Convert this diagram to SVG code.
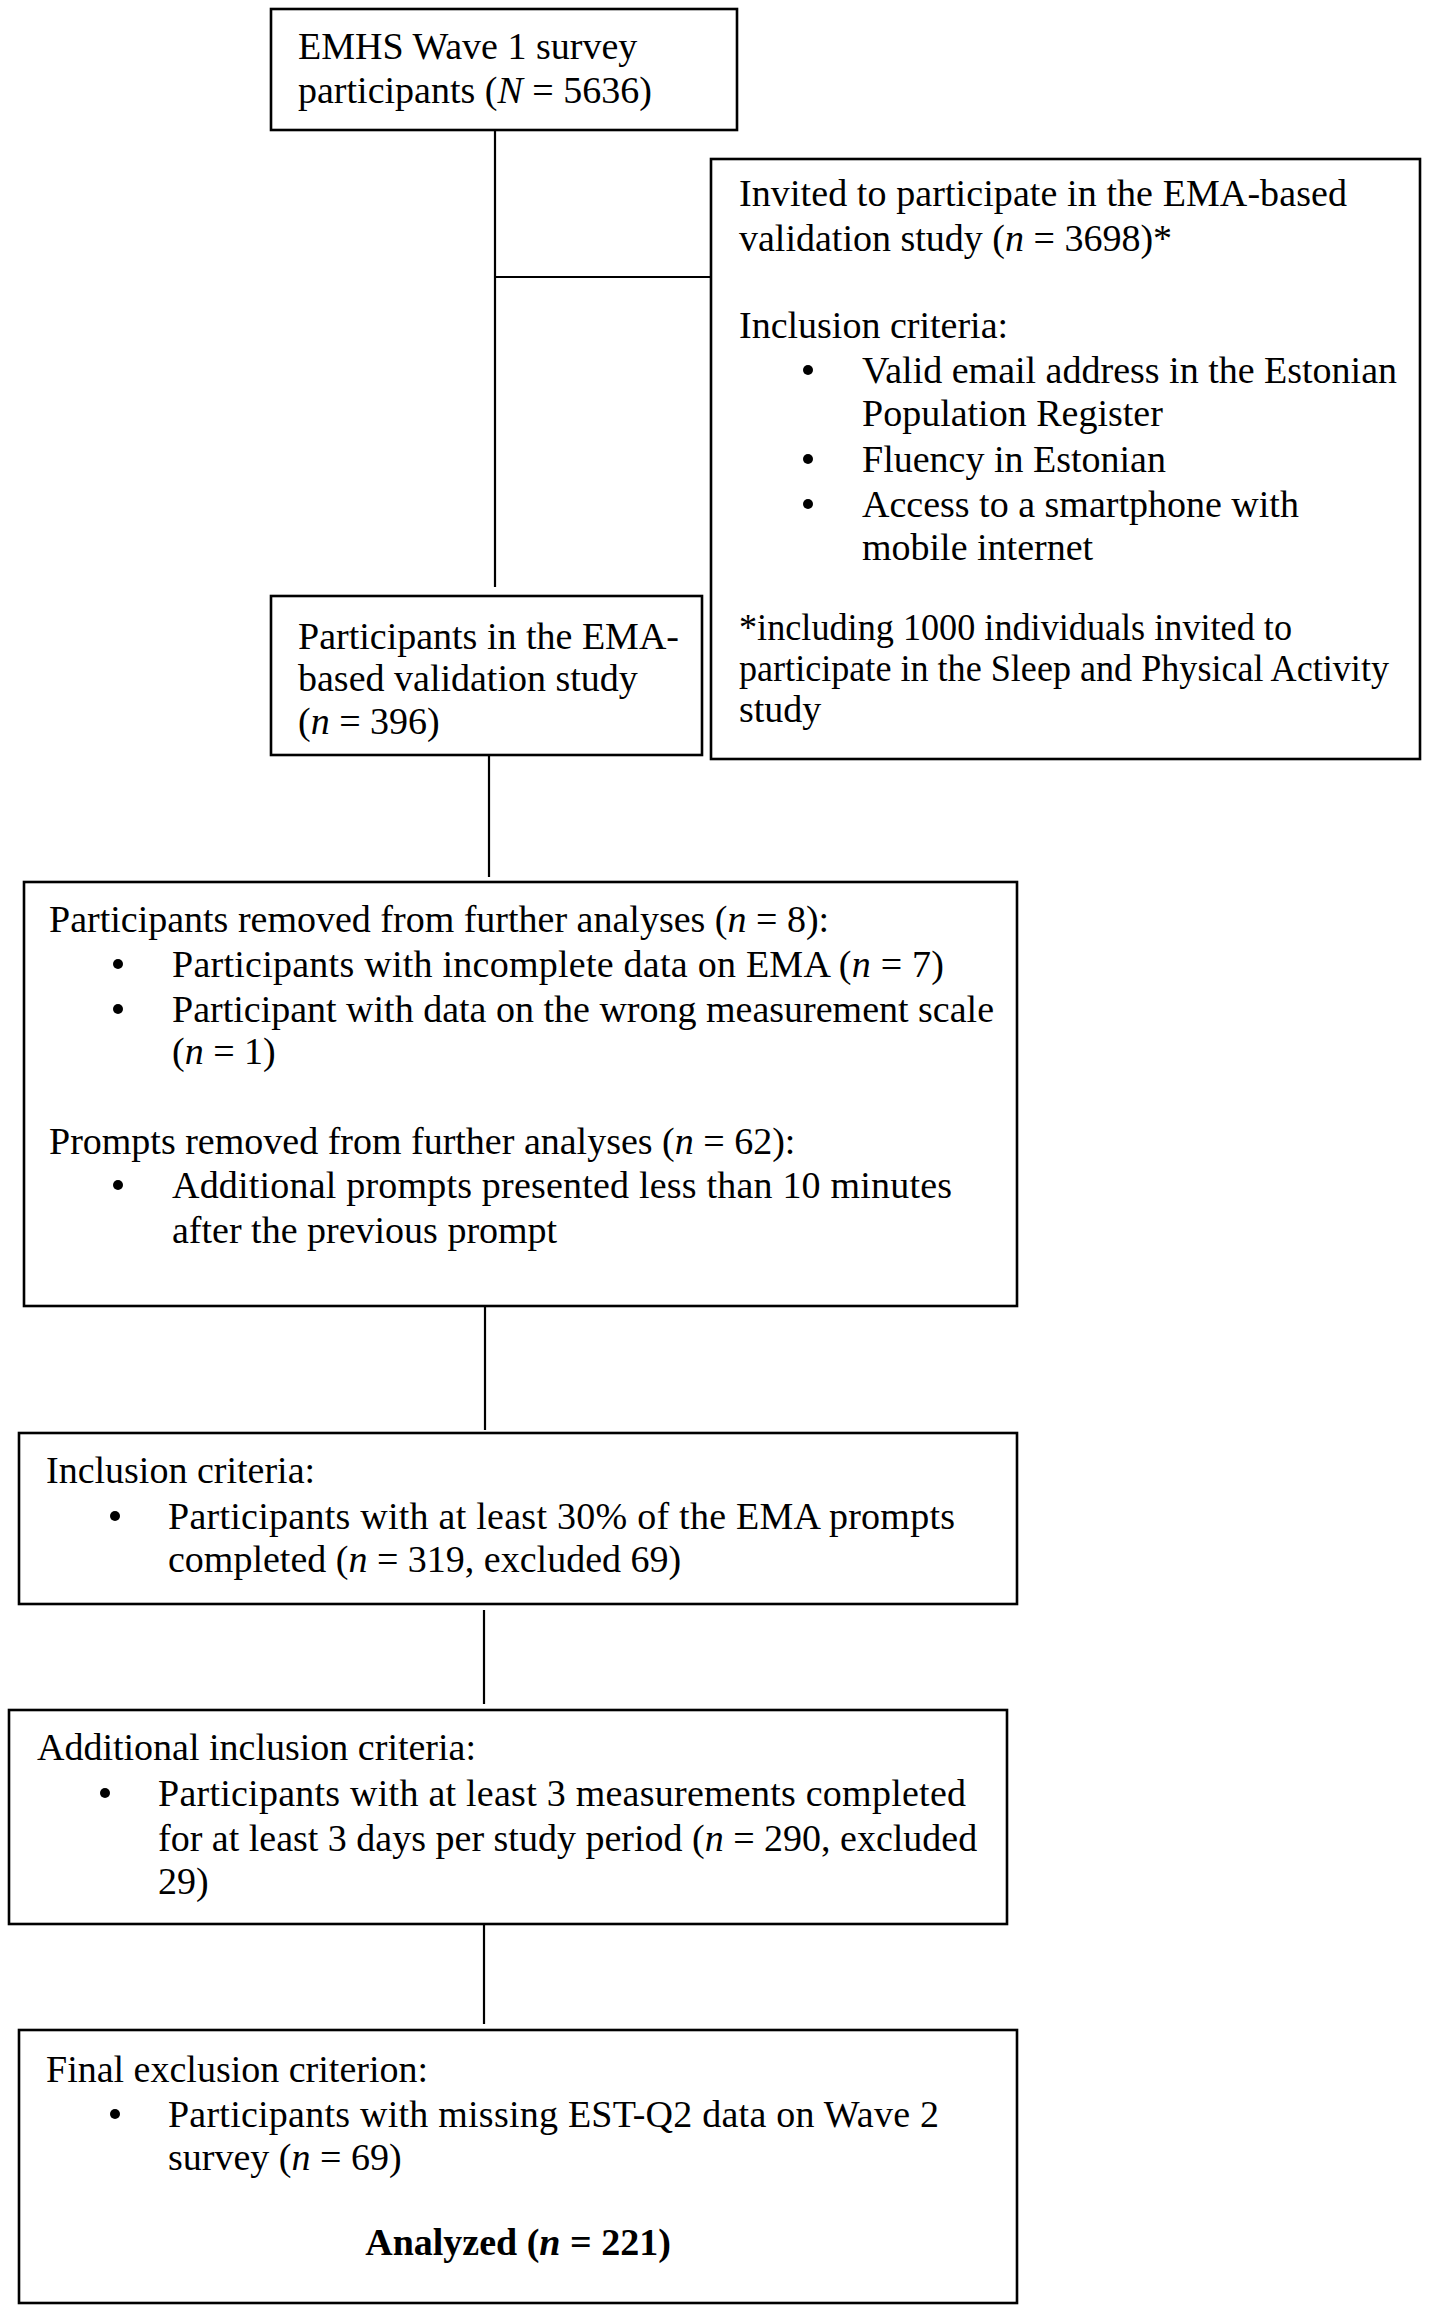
<svg xmlns="http://www.w3.org/2000/svg" width="1430" height="2314" viewBox="0 0 1430 2314">
<style>
.box{fill:#fff;stroke:#000;stroke-width:2.6}
.ln{fill:none;stroke:#000;stroke-width:2.2}
text{font-family:"Liberation Serif","Times New Roman",serif;font-size:38px;fill:#000}
.i{font-style:italic}
.b{font-weight:bold}
.dot{fill:#000}
</style>
<rect width="1430" height="2314" fill="#fff"/>
<g id="connectors">
<path class="ln" d="M495 130 V587"/>
<path class="ln" d="M495 277 H711"/>
<path class="ln" d="M489 755 V877"/>
<path class="ln" d="M485 1306 V1430"/>
<path class="ln" d="M484 1610 V1704"/>
<path class="ln" d="M484 1924 V2024"/>
</g>
<g id="node-wave1">
<rect class="box" x="271" y="9" width="466" height="121"/>
<text x="298" y="59">EMHS Wave 1 survey</text>
<text x="298" y="103">participants (<tspan class="i">N</tspan> = 5636)</text>
</g>
<g id="node-invited">
<rect class="box" x="711" y="159" width="709" height="600"/>
<text x="739" y="206" textLength="608" lengthAdjust="spacing">Invited to participate in the EMA-based</text>
<text x="739" y="251">validation study (<tspan class="i">n</tspan> = 3698)*</text>
<text x="739" y="338">Inclusion criteria:</text>
<circle class="dot" cx="808" cy="370" r="5"/>
<text x="862" y="383">Valid email address in the Estonian</text>
<text x="862" y="426">Population Register</text>
<circle class="dot" cx="808" cy="459" r="5"/>
<text x="862" y="472">Fluency in Estonian</text>
<circle class="dot" cx="808" cy="504" r="5"/>
<text x="862" y="517">Access to a smartphone with</text>
<text x="862" y="560">mobile internet</text>
<text x="739" y="640" textLength="553" lengthAdjust="spacingAndGlyphs">*including 1000 individuals invited to</text>
<text x="739" y="681" textLength="650" lengthAdjust="spacingAndGlyphs">participate in the Sleep and Physical Activity</text>
<text x="739" y="722">study</text>
</g>
<g id="node-participants">
<rect class="box" x="271" y="596" width="431" height="159"/>
<text x="298" y="649">Participants in the EMA-</text>
<text x="298" y="691">based validation study</text>
<text x="298" y="734">(<tspan class="i">n</tspan> = 396)</text>
</g>
<g id="node-removed">
<rect class="box" x="24" y="882" width="993" height="424"/>
<text x="49" y="932">Participants removed from further analyses (<tspan class="i">n</tspan> = 8):</text>
<circle class="dot" cx="118" cy="964" r="5"/>
<text x="172" y="977" textLength="772" lengthAdjust="spacing">Participants with incomplete data on EMA (<tspan class="i">n</tspan> = 7)</text>
<circle class="dot" cx="118" cy="1009" r="5"/>
<text x="172" y="1022">Participant with data on the wrong measurement scale</text>
<text x="172" y="1064">(<tspan class="i">n</tspan> = 1)</text>
<text x="49" y="1154">Prompts removed from further analyses (<tspan class="i">n</tspan> = 62):</text>
<circle class="dot" cx="118" cy="1185" r="5"/>
<text x="172" y="1198" textLength="780" lengthAdjust="spacing">Additional prompts presented less than 10 minutes</text>
<text x="172" y="1243">after the previous prompt</text>
</g>
<g id="node-inclusion">
<rect class="box" x="19" y="1433" width="998" height="171"/>
<text x="46" y="1483">Inclusion criteria:</text>
<circle class="dot" cx="115" cy="1516" r="5"/>
<text x="168" y="1529" textLength="787" lengthAdjust="spacing">Participants with at least 30% of the EMA prompts</text>
<text x="168" y="1572">completed (<tspan class="i">n</tspan> = 319, excluded 69)</text>
</g>
<g id="node-additional">
<rect class="box" x="9" y="1710" width="998" height="214"/>
<text x="37" y="1760">Additional inclusion criteria:</text>
<circle class="dot" cx="105" cy="1793" r="5"/>
<text x="158" y="1806" textLength="808" lengthAdjust="spacing">Participants with at least 3 measurements completed</text>
<text x="158" y="1851">for at least 3 days per study period (<tspan class="i">n</tspan> = 290, excluded</text>
<text x="158" y="1894">29)</text>
</g>
<g id="node-final">
<rect class="box" x="19" y="2030" width="998" height="273"/>
<text x="46" y="2082">Final exclusion criterion:</text>
<circle class="dot" cx="115" cy="2114" r="5"/>
<text x="168" y="2127" textLength="771" lengthAdjust="spacing">Participants with missing EST-Q2 data on Wave 2</text>
<text x="168" y="2170">survey (<tspan class="i">n</tspan> = 69)</text>
<text class="b" x="518" y="2255" text-anchor="middle">Analyzed (<tspan class="i">n</tspan> = 221)</text>
</g>
</svg>
